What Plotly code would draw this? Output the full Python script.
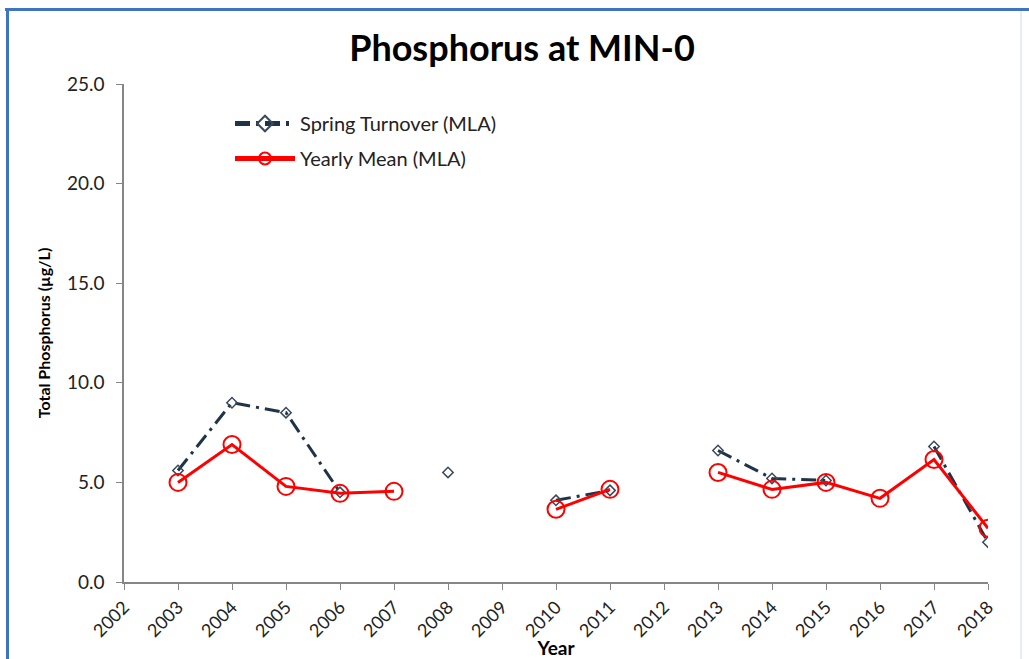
import plotly.graph_objects as go

years = [str(y) for y in range(2002, 2019)]
spring = [None, 5.6, 9.0, 8.5, 4.5, None, 5.5, None, 4.1, 4.6, None, 6.6, 5.2, 5.1, None, 6.8, 2.0]
yearly = [None, 5.0, 6.9, 4.8, 4.45, 4.55, None, None, 3.65, 4.65, None, 5.5, 4.65, 5.0, 4.2, 6.15, 2.7]
y_ticks = [0, 5, 10, 15, 20, 25]

L, R, T, B = 124, 41, 84, 77
W, H = 1029, 659
pw = W - L - R
ph = H - T - B

font = "Lato, 'Open Sans', sans-serif"

fig = go.Figure()
fig.add_trace(go.Scatter(
    x=years, y=spring, name="Spring Turnover (MLA)", mode="lines+markers",
    legendgroup="a",
    line=dict(color="#1F3448", width=3, dash="15px,6px,3px,6px"),
    marker=dict(symbol="diamond-open", size=8, color="#3A4A5A", line=dict(width=1.5)),
    connectgaps=False,
))
fig.add_trace(go.Scatter(
    x=years, y=yearly, name="Yearly Mean (MLA)", mode="lines+markers",
    legendgroup="b",
    line=dict(color="#FF0000", width=3),
    marker=dict(symbol="circle-open", size=17, color="#FF0000", line=dict(width=2)),
    connectgaps=False,
))

fig.update_layout(
    width=W, height=H,
    margin=dict(l=L, r=R, t=T, b=B, autoexpand=False),
    paper_bgcolor="white", plot_bgcolor="white",
    font=dict(family=font, color="#222222"),
    title=dict(text="<b>Phosphorus at MIN-0</b>", x=522 / W, xanchor="center",
               y=1 - 48 / H, yanchor="middle", font=dict(size=36, color="#000000")),
    legend=dict(x=(230 - L) / pw, y=1 - (104 - T) / ph, xanchor="left", yanchor="top",
                bgcolor="rgba(0,0,0,0)", font=dict(size=20, color="#222222"),
                itemwidth=60, tracegroupgap=6, itemsizing="constant"),
    showlegend=True,
)
fig.update_xaxes(
    type="category", categoryorder="array", categoryarray=years,
    range=[0, len(years) - 1], automargin=False,
    tickvals=years, ticktext=years, tickangle=-45,
    showline=True, linecolor="#868686", linewidth=1.5,
    ticks="outside", ticklen=6, tickcolor="#868686",
    showgrid=False, zeroline=False,
    tickfont=dict(size=18, color="#222222"),
    title=dict(text="<b>Year</b>", font=dict(size=19, color="#000000"), standoff=0),
)
fig.update_yaxes(
    range=[0, 25], tickvals=y_ticks, tickformat=".1f", automargin=False,
    showline=True, linecolor="#868686", linewidth=1.5,
    ticks="outside", ticklen=6, tickcolor="#868686",
    showgrid=False, zeroline=False,
    ticklabelstandoff=8,
    tickfont=dict(size=19, color="#222222"),
    title=dict(text="<b>Total Phosphorus (µg/L)</b>", font=dict(size=16, color="#000000"), standoff=12),
)

def px_x(p):
    return (p - L) / pw

def px_y(p):
    return (H - B - p) / ph

# Chart frame (blue border)
fig.add_shape(type="line", xref="paper", yref="paper",
              x0=px_x(5), x1=px_x(W + 5), y0=px_y(9.5), y1=px_y(9.5),
              line=dict(color="#3F74C0", width=3))
fig.add_shape(type="line", xref="paper", yref="paper",
              x0=px_x(7.5), x1=px_x(7.5), y0=px_y(8), y1=px_y(H + 5),
              line=dict(color="#3F74C0", width=3))
fig.add_shape(type="line", xref="paper", yref="paper",
              x0=px_x(1021), x1=px_x(1021), y0=px_y(11), y1=px_y(H + 5),
              line=dict(color="#DCE8F5", width=1.5))

fig.write_html("out.html", config={"displayModeBar": False},
               post_script="document.body.style.margin='0';document.body.style.overflow='hidden';")
